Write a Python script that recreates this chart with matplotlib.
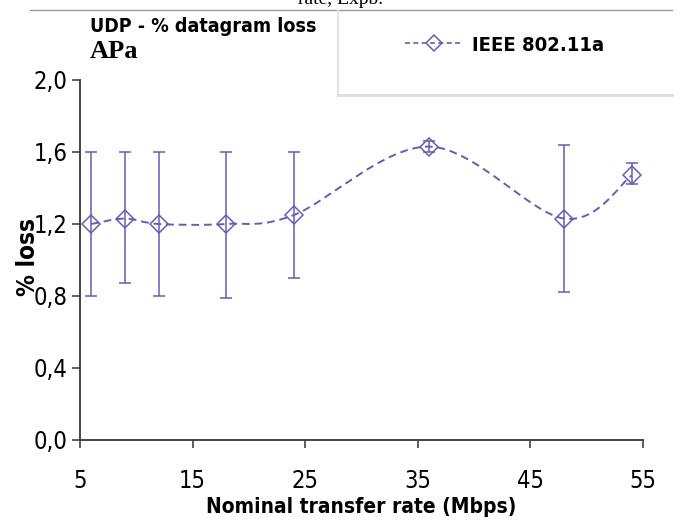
import matplotlib
matplotlib.use('Agg')
import matplotlib.pyplot as plt
from matplotlib import font_manager
from matplotlib.font_manager import FontProperties
from matplotlib.path import Path
from matplotlib.patches import PathPatch
from matplotlib.lines import Line2D

# datos
tasas = [6, 9, 12, 18, 24, 36, 48, 54]
perdida = [1.20, 1.23, 1.20, 1.20, 1.25, 1.63, 1.23, 1.47]
err_sup = [0.40, 0.37, 0.40, 0.40, 0.35, 0.03, 0.41, 0.07]
err_inf = [0.40, 0.36, 0.40, 0.41, 0.35, 0.03, 0.41, 0.05]
ticks_x = [5, 15, 25, 35, 45, 55]
ticks_y = [0.0, 0.4, 0.8, 1.2, 1.6, 2.0]

morado = '#6a5bb4'


# fuente estrecha tipo Arial Narrow si hay alguna instalada
def peso(f):
    w = f.weight
    if isinstance(w, str):
        return 700 if 'bold' in w.lower() or 'heavy' in w.lower() else 400
    return w


def fuente_estrecha(negrita):
    pref = ['Liberation Sans Narrow', 'Arial Narrow', 'DejaVu Sans', 'Open Sans']
    mejores = []
    for f in font_manager.fontManager.ttflist:
        estrecha = ('Narrow' in f.name or 'Condensed' in f.name or 'Cond' in f.fname
                    or str(f.stretch) in ('condensed', 'semi-condensed', 'extra-condensed'))
        if not estrecha or 'Italic' in f.fname or 'Oblique' in f.fname:
            continue
        if (peso(f) >= 600) != negrita:
            continue
        base = next((i for i, p in enumerate(pref) if f.name.startswith(p)), 9)
        mejores.append((base, f.fname))
    if mejores:
        return sorted(mejores)[0][1]
    return None


f_normal = fuente_estrecha(False)
f_negrita = fuente_estrecha(True)


def fp(size, negrita=False):
    ruta = f_negrita if negrita else f_normal
    if ruta:
        return FontProperties(fname=ruta, size=size)
    return FontProperties(family='Liberation Sans', size=size * 0.85,
                          weight='bold' if negrita else 'normal')


fig = plt.figure(figsize=(6.81, 5.22), dpi=100)
ax = fig.add_axes([80 / 681, 1 - 440 / 522, 563 / 681, 360 / 522])

# linea suavizada tipo Excel (bezier a partir de los puntos)
pts = list(zip(tasas, perdida))
verts = [pts[0]]
codes = [Path.MOVETO]
for i in range(len(pts) - 1):
    p0 = pts[i - 1] if i > 0 else pts[i]
    p1 = pts[i]
    p2 = pts[i + 1]
    p3 = pts[i + 2] if i + 2 < len(pts) else pts[i + 1]
    c1 = (p1[0] + (p2[0] - p0[0]) / 6, p1[1] + (p2[1] - p0[1]) / 6)
    c2 = (p2[0] - (p3[0] - p1[0]) / 6, p2[1] - (p3[1] - p1[1]) / 6)
    verts += [c1, c2, p2]
    codes += [Path.CURVE4] * 3
curva = PathPatch(Path(verts, codes), facecolor='none', edgecolor=morado,
                  lw=1.4, linestyle=(0, (4, 2.5)))
ax.add_patch(curva)

ax.errorbar(tasas, perdida, yerr=[err_inf, err_sup], fmt='D', ms=9,
            mfc='none', mec=morado, mew=1.1, ecolor=morado, elinewidth=1.1,
            capsize=4, capthick=1.1)

ax.set_xlim(5, 55)
ax.set_ylim(0, 2.0)
ax.set_xticks(ticks_x)
ax.set_yticks(ticks_y)
ax.set_xticklabels([str(t) for t in ticks_x], fontproperties=fp(17))
ax.set_yticklabels([('%.1f' % t).replace('.', ',') for t in ticks_y],
                   fontproperties=fp(17))
ax.tick_params(axis='x', length=6, width=1.2, color='#444444', pad=15)
ax.tick_params(axis='y', length=6, width=1.2, color='#444444', pad=3)
for s in ['top', 'right']:
    ax.spines[s].set_visible(False)
for s in ['left', 'bottom']:
    ax.spines[s].set_linewidth(1.4)
    ax.spines[s].set_color('#444444')

fig.text(361 / 681, 1 - 507 / 522, 'Nominal transfer rate (Mbps)', ha='center',
         va='center', fontproperties=fp(15, True))
fig.text(28 / 681, 1 - 257 / 522, '% loss', rotation=90, ha='center',
         va='center', fontproperties=fp(17.5, True))
fig.text(90 / 681, 1 - 27 / 522, 'UDP - % datagram loss', ha='left',
         va='center', fontproperties=fp(14, True))
fig.text(90 / 681, 1 - 51 / 522, 'APa', ha='left', va='center',
         fontfamily='Liberation Serif', fontsize=19, fontweight='bold')
fig.text(340 / 681, 1.0, 'rate, Expb.', ha='center', va='center',
         fontfamily='Liberation Serif', fontsize=14)

# marco de la leyenda y linea superior
fig.add_artist(Line2D([30 / 681, 672 / 681], [1 - 10 / 522] * 2,
                      color='#999999', lw=1))
fig.add_artist(Line2D([338 / 681] * 2, [1 - 10 / 522, 1 - 95 / 522],
                      color='#e4e4e4', lw=1.5))
fig.add_artist(Line2D([338 / 681, 672 / 681], [1 - 95 / 522] * 2,
                      color='#dddddd', lw=2))

leg = ax.legend([Line2D([], [], color=morado, ls=(0, (3, 2)), lw=1.2,
                        marker='D', ms=8, mfc='none', mew=1.1)],
                ['IEEE 802.11a'], loc='center left',
                bbox_to_anchor=(405 / 681, 1 - 45 / 522),
                bbox_transform=fig.transFigure, frameon=False,
                prop=fp(14.5, True), handlelength=2.9, handletextpad=0.45,
                borderaxespad=0, borderpad=0)

fig.savefig('out.png', dpi=100)
